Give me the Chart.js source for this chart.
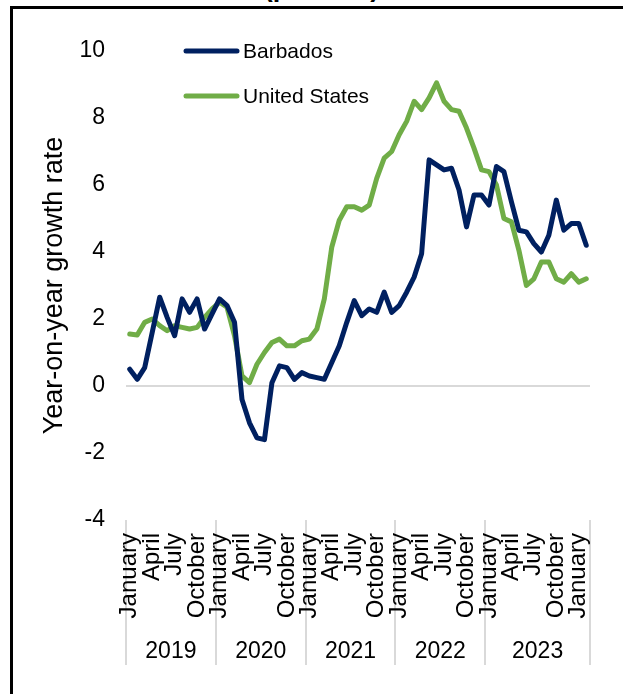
<!DOCTYPE html>
<html lang="en">
<head>
  <meta charset="UTF-8">
  <title>Year-on-year growth rate: Barbados vs United States</title>
  <style>
    * { box-sizing: border-box; margin:0; padding:0; }
    body { background:#fff; width:623px; height:694px; overflow:hidden; position:relative; font-family:"Liberation Sans", Arial, sans-serif; }
    .frame {
      position:absolute; left:10px; top:6px; right:-10px; bottom:-10px;
      border-left:3px solid #000; border-top:3px solid #000;
    }
    .title {
      position:absolute; left:0; width:643px; top:-26px; text-align:center;
      font-weight:bold; font-size:27px; line-height:27px; color:#000;
    }
    canvas { position:absolute; left:0; top:0; }
  </style>
  <script src="https://cdn.jsdelivr.net/npm/chart.js"></script>
</head>
<body>
  <div class="title">(percent)</div>
  <div class="frame"></div>
  <canvas id="cpiChart" width="623" height="694"></canvas>

  <script>
    // categories: monthly, January 2019 to February 2024
    const monthNames = ['January','February','March','April','May','June','July','August','September','October','November','December'];
    const years = ['2019','2020','2021','2022','2023'];
    const lastYearExtra = ['January','February']; // 2024 months, grouped under 2023
    const shownMonths = ['January','April','July','October'];

    const barbados = [
      0.5, 0.2, 0.55, 1.6, 2.65, 2.05, 1.5, 2.6, 2.2, 2.6, 1.7, 2.15,
      2.6, 2.4, 1.9, -0.4, -1.1, -1.55, -1.6, 0.1, 0.6, 0.55, 0.2, 0.4,
      0.3, 0.25, 0.2, 0.7, 1.2, 1.9, 2.55, 2.1, 2.3, 2.2, 2.8, 2.2,
      2.4, 2.8, 3.25, 3.95, 6.75, 6.6, 6.45, 6.5, 5.85, 4.75, 5.7, 5.7,
      5.4, 6.55, 6.4, 5.5, 4.65, 4.6, 4.25, 4.0, 4.5, 5.55, 4.65, 4.85,
      4.85, 4.2
    ];
    const unitedStates = [
      1.55, 1.52, 1.9, 2.0, 1.8, 1.65, 1.8, 1.75, 1.7, 1.75, 2.05, 2.3,
      2.5, 2.35, 1.5, 0.3, 0.1, 0.65, 1.0, 1.3, 1.4, 1.2, 1.2, 1.35,
      1.4, 1.7, 2.6, 4.15, 4.95, 5.35, 5.35, 5.25, 5.4, 6.2, 6.8, 7.0,
      7.5, 7.9, 8.5, 8.25, 8.6, 9.05, 8.5, 8.25, 8.2, 7.7, 7.1, 6.45,
      6.4, 6.0, 5.0, 4.9, 4.05, 3.0, 3.2, 3.7, 3.7, 3.2, 3.1, 3.35,
      3.1, 3.2
    ];
    const yTicks = [-4, -2, 0, 2, 4, 6, 8, 10];

    const labels = [];
    const yearOf = [];
    years.forEach(y => monthNames.forEach(m => { labels.push(m); yearOf.push(y); }));
    lastYearExtra.forEach(m => { labels.push(m); yearOf.push(years[years.length - 1]); });

    const FONT = '"Liberation Sans", Arial, sans-serif';
    Chart.defaults.font.family = FONT;
    Chart.defaults.color = '#000';

    // legend drawn inside the plot, top left
    const insideLegend = {
      id: 'insideLegend',
      afterDraw(chart) {
        const { ctx, chartArea } = chart;
        chart.data.datasets.forEach((ds, k) => {
          const y = chartArea.top + k * 45;
          const x0 = chartArea.left + 60;
          ctx.save();
          ctx.strokeStyle = ds.borderColor;
          ctx.lineWidth = 5;
          ctx.lineCap = 'round';
          ctx.beginPath();
          ctx.moveTo(x0, y);
          ctx.lineTo(x0 + 51, y);
          ctx.stroke();
          ctx.fillStyle = '#000';
          ctx.font = '21px ' + FONT;
          ctx.textBaseline = 'middle';
          ctx.fillText(ds.label, x0 + 57, y + 1);
          ctx.restore();
        });
      }
    };

    // year row under the month labels, with separators behind the labels
    const yearGroups = {
      id: 'yearGroups',
      beforeDraw(chart) {
        const { ctx, chartArea } = chart;
        const xs = chart.scales.x;
        const step = xs.getPixelForValue(1) - xs.getPixelForValue(0);
        const edge = i => xs.getPixelForValue(i) - step / 2;
        const starts = [];
        yearOf.forEach((y, i) => { if (i === 0 || yearOf[i - 1] !== y) starts.push(i); });
        starts.push(yearOf.length);
        ctx.save();
        ctx.strokeStyle = '#d9d9d9';
        ctx.lineWidth = 2;
        starts.forEach(i => {
          const x = Math.round(edge(i));
          ctx.beginPath();
          ctx.moveTo(x, chartArea.bottom);
          ctx.lineTo(x, chartArea.bottom + 145);
          ctx.stroke();
        });
        ctx.fillStyle = '#000';
        ctx.font = '23px ' + FONT;
        ctx.textAlign = 'center';
        ctx.textBaseline = 'middle';
        for (let k = 0; k < starts.length - 1; k++) {
          const cx = (edge(starts[k]) + edge(starts[k + 1])) / 2;
          ctx.fillText(yearOf[starts[k]], cx, chartArea.bottom + 132);
        }
        ctx.restore();
      }
    };

    new Chart(document.getElementById('cpiChart').getContext('2d'), {
      type: 'line',
      data: {
        labels: labels,
        datasets: [
          { label: 'Barbados', data: barbados, borderColor: '#002060', borderWidth: 5,
            pointRadius: 0, tension: 0, fill: false, borderCapStyle: 'round', borderJoinStyle: 'round' },
          { label: 'United States', data: unitedStates, borderColor: '#70ad47', borderWidth: 5,
            pointRadius: 0, tension: 0, fill: false, borderCapStyle: 'round', borderJoinStyle: 'round' }
        ]
      },
      options: {
        responsive: false,
        animation: false,
        layout: { padding: { left: 0, right: 33, top: 51, bottom: 0 } },
        plugins: { legend: { display: false }, tooltip: { enabled: false } },
        scales: {
          x: {
            offset: true,
            grid: { display: false, drawTicks: false },
            border: { display: false },
            afterFit: s => { s.height = 174; s.paddingLeft = 0; s.paddingRight = 0; },
            ticks: {
              autoSkip: false, minRotation: 90, maxRotation: 90, padding: 13,
              font: { size: 24 },
              callback: function (v) {
                const m = this.getLabelForValue(v);
                return shownMonths.includes(m) ? m : '';
              }
            }
          },
          y: {
            min: yTicks[0], max: yTicks[yTicks.length - 1],
            afterFit: s => { s.width = 126; },
            afterBuildTicks: s => { s.ticks = yTicks.map(v => ({ value: v })); },
            grid: {
              drawTicks: false,
              color: c => (c.tick && c.tick.value === 0) ? '#d9d9d9' : 'rgba(0,0,0,0)',
              lineWidth: 2
            },
            border: { display: false },
            ticks: { padding: 21, font: { size: 23 } },
            title: { display: true, text: 'Year-on-year growth rate', font: { size: 27 }, padding: { top: 38, bottom: 0 } }
          }
        }
      },
      plugins: [insideLegend, yearGroups]
    });
  </script>
</body>
</html>
